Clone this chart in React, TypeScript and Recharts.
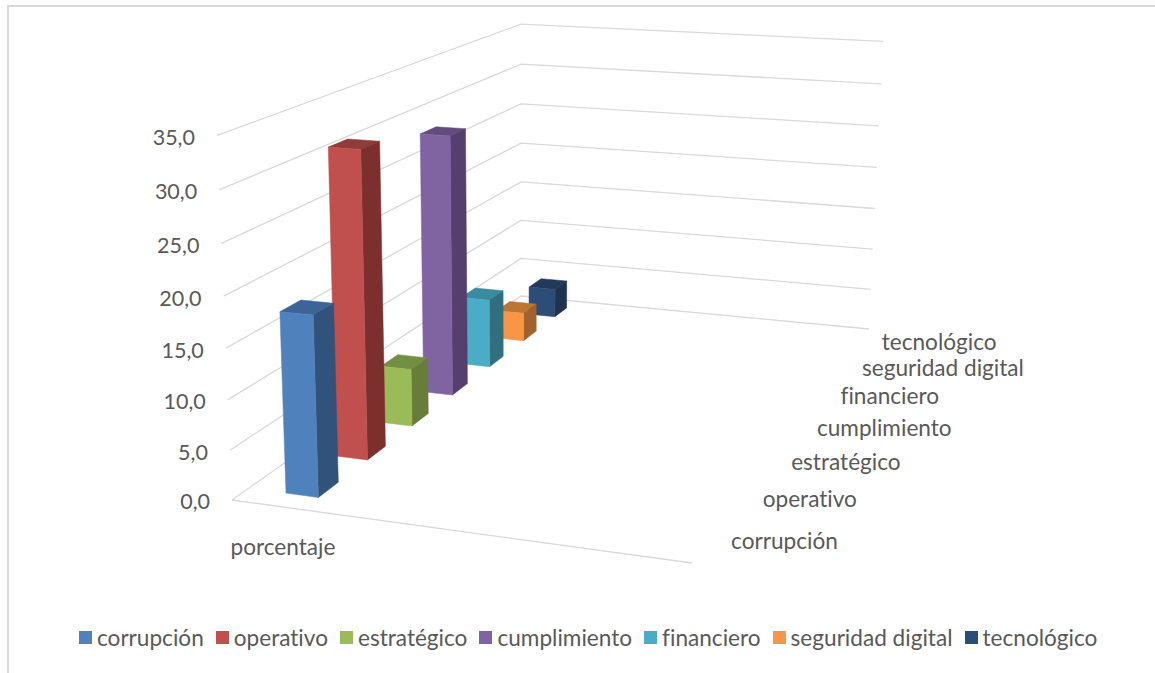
import React from "react";
import { BarChart, Bar, XAxis, YAxis, Legend, CartesianGrid } from "recharts";

const categories = ["porcentaje"];
const seriesNames = ["corrupción", "operativo", "estratégico", "cumplimiento", "financiero", "seguridad digital", "tecnológico"];
const seriesValues = [18.0, 31.5, 6.2, 28.8, 7.9, 3.4, 3.5];
const valueTicks = [0, 5, 10, 15, 20, 25, 30, 35];
const frontColors = ["#4F81BD", "#C0504D", "#9BBB59", "#8064A2", "#4BACC6", "#F79646", "#2C4D75"];
const sideColors = ["#31527A", "#7D2F2D", "#687D3A", "#553F6F", "#316F80", "#A2622B", "#1D3350"];
const topColors = ["#3C6595", "#8F3C3A", "#748E43", "#634C7E", "#3A8BA1", "#BE7433", "#22395A"];

const data = categories.map((name) => {
  const row: Record<string, any> = { name };
  seriesNames.forEach((s, i) => (row[s] = seriesValues[i]));
  return row;
});

// Camera of the 3D scene: floor corners and vertical vanishing point
const A = [232, 500], B = [692, 563], C = [869, 329], D = [521, 296];
const VP = [519, 7457];
const K = -0.0498;
const MAX = 35;
const den = (B[0] - C[0]) * (D[1] - C[1]) - (D[0] - C[0]) * (B[1] - C[1]);
const sx = A[0] - B[0] + C[0] - D[0];
const sy = A[1] - B[1] + C[1] - D[1];
const g = (sx * (D[1] - C[1]) - (D[0] - C[0]) * sy) / den;
const h0 = ((B[0] - C[0]) * sy - sx * (B[1] - C[1])) / den;
const a = B[0] - A[0] + g * B[0];
const b = D[0] - A[0] + h0 * D[0];
const d = B[1] - A[1] + g * B[1];
const e = D[1] - A[1] + h0 * D[1];

function project(u: number, v: number, h: number): [number, number] {
  const w = g * u + h0 * v + 1 + K * h;
  return [
    (a * u + b * v + A[0] + K * h * VP[0]) / w,
    (d * u + e * v + A[1] + K * h * VP[1]) / w,
  ];
}
const pts = (list: [number, number][]) => list.map((p) => p.map((n) => n.toFixed(1)).join(",")).join(" ");

const U0 = 0.088, U1 = 0.164, HALF_DEPTH = 0.028;
const FONT = "Lato, 'Open Sans', sans-serif";
const TEXT = "#595959";
const FS = 22.6;
const GRID = "#D9D9D9";
const NOLIG = { fontVariantLigatures: "none" } as const;

function Box(props: any) {
  const { index, height, background } = props;
  const hh = height / background.height;
  const vc = (index + 0.5) / seriesNames.length;
  const v0 = vc - HALF_DEPTH, v1 = vc + HALF_DEPTH;
  const f = [project(U0, v0, 0), project(U1, v0, 0), project(U1, v0, hh), project(U0, v0, hh)] as [number, number][];
  const s = [project(U1, v0, 0), project(U1, v1, 0), project(U1, v1, hh), project(U1, v0, hh)] as [number, number][];
  const t = [project(U0, v0, hh), project(U1, v0, hh), project(U1, v1, hh), project(U0, v1, hh)] as [number, number][];
  return (
    <g>
      <polygon points={pts(t)} fill={topColors[index]} stroke={topColors[index]} strokeWidth={0.5} />
      <polygon points={pts(s)} fill={sideColors[index]} stroke={sideColors[index]} strokeWidth={0.5} />
      <polygon points={pts(f)} fill={frontColors[index]} stroke={frontColors[index]} strokeWidth={0.5} />
    </g>
  );
}

function GridLine(props: any) {
  const hh = (props.y + props.height - props.y1) / props.height;
  const p0 = project(0, 0, hh), p1 = project(0, 1, hh), p2 = project(1, 1, hh);
  return <polyline points={pts([p0, p1, p2])} fill="none" stroke={GRID} strokeWidth={1.3} />;
}

function ValueTick(props: any) {
  const val = props.payload.value;
  const p0 = project(0, 0, val / MAX);
  return (
    <text x={p0[0] - 22} y={p0[1] + 4} textAnchor="end" dominantBaseline="middle" fontFamily={FONT} fontSize={21.5} fill={TEXT}>
      {val.toFixed(1).replace(".", ",")}
    </text>
  );
}

function CategoryTick(props: any) {
  const p0 = project(0, 0, 0), p1 = project(1, 0, 0);
  const c = project((U0 + U1) / 2, 0, 0);
  return (
    <g>
      <line x1={p0[0]} y1={p0[1]} x2={p1[0]} y2={p1[1]} stroke={GRID} strokeWidth={1.3} />
      <text x={c[0] - 3} y={c[1] + 42} textAnchor="middle" dominantBaseline="middle" fontFamily={FONT} fontSize={FS} fill={TEXT} style={NOLIG}>
        {props.payload.value}
      </text>
    </g>
  );
}

function DepthTick(props: any) {
  const i = props.payload.value;
  const p = project(1, (i + 0.5) / seriesNames.length, 0);
  return (
    <text x={p[0] + 22} y={p[1] + 3} textAnchor="start" dominantBaseline="middle" fontFamily={FONT} fontSize={FS} fill={TEXT} style={NOLIG}>
      {seriesNames[i]}
    </text>
  );
}

function LegendContent() {
  return (
    <div style={{ display: "flex", alignItems: "center", fontFamily: FONT, fontSize: FS, color: TEXT, whiteSpace: "nowrap", ...NOLIG }}>
      {seriesNames.map((s, i) => (
        <div key={s} style={{ display: "flex", alignItems: "center", marginRight: 12 }}>
          <span style={{ width: 13, height: 13, background: frontColors[i], marginRight: 5, display: "inline-block" }} />
          <span>{s}</span>
        </div>
      ))}
    </div>
  );
}

const order = seriesNames.map((_, i) => seriesNames.length - 1 - i);

export default function App() {
  return (
    <div style={{ position: "absolute", left: 0, top: 0, width: 1155, height: 673, background: "#fff", overflow: "hidden" }}>
      <div style={{ position: "absolute", left: 7, top: 5, width: 1148, height: 668, borderLeft: "2px solid #D9D9D9", borderTop: "2px solid #D9D9D9", boxSizing: "border-box" }} />
      <BarChart width={1155} height={673} data={data} margin={{ top: 20, right: 20, bottom: 20, left: 20 }} style={{ position: "absolute", left: 0, top: 0 }}>
        <CartesianGrid vertical={false} horizontal={<GridLine />} syncWithTicks horizontalValues={valueTicks} />
        <XAxis dataKey="name" axisLine={false} tickLine={false} interval={0} tick={<CategoryTick />} />
        <YAxis domain={[0, MAX]} ticks={valueTicks} interval={0} axisLine={false} tickLine={false} width={1} tick={<ValueTick />} />
        <YAxis yAxisId="depth" type="number" allowDataOverflow domain={[0, seriesNames.length - 1]} ticks={seriesNames.map((_, i) => i)} interval={0} axisLine={false} tickLine={false} width={1} orientation="right" tick={<DepthTick />} />
        <Legend content={<LegendContent />} wrapperStyle={{ position: "absolute", left: 79, top: 624, width: 1060 }} />
        {order.map((i) => (
          <Bar
            key={seriesNames[i]}
            dataKey={seriesNames[i]}
            isAnimationActive={false}
            fill={frontColors[i]}
            shape={(p: any) => <Box {...p} index={i} />}
          />
        ))}
      </BarChart>
    </div>
  );
}
